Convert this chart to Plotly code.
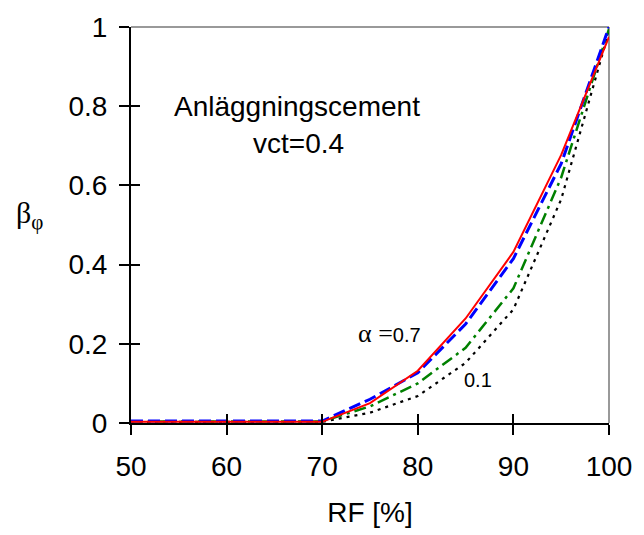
import plotly.graph_objects as go

rf = [50, 70, 75, 80, 85, 90, 95, 100]
beta_07 = [0.003, 0.003, 0.050, 0.132, 0.264, 0.432, 0.677, 0.975]
beta_05 = [0.005, 0.005, 0.060, 0.127, 0.250, 0.415, 0.655, 1.000]
beta_03 = [0.004, 0.004, 0.042, 0.100, 0.190, 0.340, 0.620, 0.995]
beta_01 = [0.003, 0.003, 0.026, 0.068, 0.152, 0.287, 0.565, 0.990]

xticks = [50, 60, 70, 80, 90, 100]
yticks = [0, 0.2, 0.4, 0.6, 0.8, 1]
ytick_text = ["0", "0.2", "0.4", "0.6", "0.8", "1"]

FONT = "Liberation Sans, Arial, sans-serif"

fig = go.Figure()
fig.add_trace(go.Scatter(x=rf, y=beta_01, mode="lines",
                         line=dict(color="black", width=2.2, dash="3px,5px")))
fig.add_trace(go.Scatter(x=rf, y=beta_03, mode="lines",
                         line=dict(color="#008000", width=2.5, dash="12px,5px,3px,5px")))
fig.add_trace(go.Scatter(x=rf, y=beta_05, mode="lines",
                         line=dict(color="#0000ff", width=3, dash="12px,5px")))
fig.add_trace(go.Scatter(x=rf, y=beta_07, mode="lines",
                         line=dict(color="#ff0000", width=2)))

fig.update_layout(
    width=644, height=535,
    margin=dict(l=131, r=24, t=25, b=108),
    paper_bgcolor="white", plot_bgcolor="white",
    showlegend=False,
    font=dict(family=FONT, size=28, color="black"),
    xaxis=dict(range=[50, 100], tickvals=xticks, ticks="outside", ticklen=10,
               tickwidth=2, tickcolor="black", showline=True, linecolor="black",
               linewidth=2, showgrid=False, zeroline=False,
               tickfont=dict(size=28), ticklabelstandoff=7,
               title=dict(text="RF [%]", font=dict(size=28), standoff=22)),
    yaxis=dict(range=[0, 1], tickvals=yticks, ticktext=ytick_text, ticks="outside",
               ticklen=10, tickwidth=2, tickcolor="black", showline=True,
               linecolor="black", linewidth=2, showgrid=False, zeroline=False,
               tickfont=dict(size=28), ticklabelstandoff=6),
    xaxis2=dict(range=[50, 100], tickvals=xticks, ticks="inside", ticklen=9,
                tickwidth=2, tickcolor="black", showticklabels=False,
                overlaying="x", anchor="y", showgrid=False, zeroline=False),
    yaxis2=dict(range=[0, 1], tickvals=yticks, ticks="inside", ticklen=9,
                tickwidth=2, tickcolor="black", showticklabels=False,
                overlaying="y", anchor="x", showgrid=False, zeroline=False),
)
# dummy trace to activate overlay axes
fig.add_trace(go.Scatter(x=[50], y=[0], xaxis="x2", yaxis="y2", mode="markers",
                         marker=dict(opacity=0), hoverinfo="skip"))

# grey top and right borders
fig.add_shape(type="line", xref="x domain", yref="y domain", x0=0, x1=1, y0=1, y1=1,
              line=dict(color="#999999", width=2), layer="below")
fig.add_shape(type="line", xref="x domain", yref="y domain", x0=1, x1=1, y0=0, y1=1,
              line=dict(color="#999999", width=2), layer="below")

fig.add_annotation(x=67.4, y=0.80, text="Anläggningscement", showarrow=False,
                   font=dict(size=28))
fig.add_annotation(x=67.5, y=0.705, text="vct=0.4", showarrow=False,
                   font=dict(size=28))
fig.add_annotation(x=77.0, y=0.225, showarrow=False,
                   text="<span style='font-family:Liberation Serif;font-size:26px'>α </span>"
                        "<span style='font-family:Liberation Serif;font-size:26px'>=</span>0.7",
                   font=dict(size=20))
fig.add_annotation(x=86.3, y=0.108, text="0.1", showarrow=False, font=dict(size=20))
fig.add_annotation(xref="paper", yref="paper", x=-0.245, y=0.525, showarrow=False,
                   text="β<sub>φ</sub>",
                   font=dict(family="Liberation Serif, serif", size=30))

fig.write_html("out.html")
